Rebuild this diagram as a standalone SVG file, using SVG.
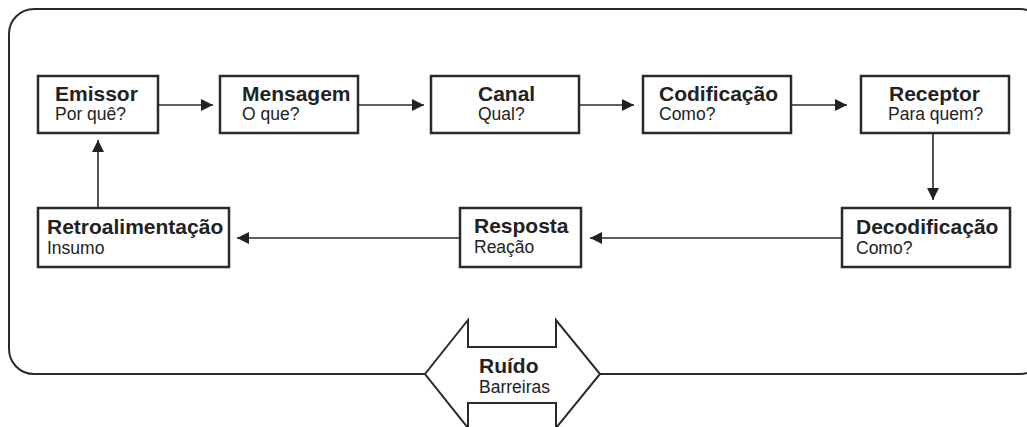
<svg xmlns="http://www.w3.org/2000/svg" width="1027" height="427" viewBox="0 0 1027 427">
<style>
.frame{fill:none;stroke:#2a2a2a;stroke-width:2}
.box{fill:#fff;stroke:#2a2a2a;stroke-width:2.5}
.con{fill:none;stroke:#2a2a2a;stroke-width:1.6}
.t{font-family:"Liberation Sans",Arial,sans-serif;font-weight:bold;font-size:21px;fill:#222}
.s{font-family:"Liberation Sans",Arial,sans-serif;font-size:17.5px;fill:#222}
.noise{fill:#fff;stroke:#2a2a2a;stroke-width:2}
</style>
<defs>
<marker id="ah" viewBox="0 0 12 12" refX="12" refY="6" markerWidth="12" markerHeight="12" markerUnits="userSpaceOnUse" orient="auto">
<path d="M0,0 L12,6 L0,12 z" fill="#222"/>
</marker>
</defs>
<rect x="0" y="0" width="1027" height="427" fill="#fff"/>
<rect class="frame" x="9" y="9" width="1036" height="365" rx="25" ry="25"/>
<g id="connectors">
<path class="con" d="M158,105 H213" marker-end="url(#ah)"/>
<path class="con" d="M358,105 H424" marker-end="url(#ah)"/>
<path class="con" d="M579,105 H634" marker-end="url(#ah)"/>
<path class="con" d="M791,105 H847" marker-end="url(#ah)"/>
<path class="con" d="M933,133 V200" marker-end="url(#ah)"/>
<path class="con" d="M842,238 H590" marker-end="url(#ah)"/>
<path class="con" d="M460,238 H237" marker-end="url(#ah)"/>
<path class="con" d="M98,208 V140" marker-end="url(#ah)"/>
</g>
<g id="emissor">
<rect class="box" x="38" y="76" width="120" height="57"/>
<text class="t" x="55" y="101">Emissor</text>
<text class="s" x="55" y="120">Por quê?</text>
</g>
<g id="mensagem">
<rect class="box" x="220" y="76" width="138" height="57"/>
<text class="t" x="242" y="101">Mensagem</text>
<text class="s" x="242" y="120">O que?</text>
</g>
<g id="canal">
<rect class="box" x="431" y="76" width="148" height="57"/>
<text class="t" x="478" y="101">Canal</text>
<text class="s" x="478" y="120">Qual?</text>
</g>
<g id="codificacao">
<rect class="box" x="643" y="76" width="148" height="57"/>
<text class="t" x="659" y="101">Codificação</text>
<text class="s" x="659" y="120">Como?</text>
</g>
<g id="receptor">
<rect class="box" x="861" y="76" width="148" height="57"/>
<text class="t" x="889" y="101">Receptor</text>
<text class="s" x="888" y="120">Para quem?</text>
</g>
<g id="decodificacao">
<rect class="box" x="842" y="208" width="168" height="59"/>
<text class="t" x="856" y="234">Decodificação</text>
<text class="s" x="856" y="254">Como?</text>
</g>
<g id="resposta">
<rect class="box" x="460" y="208" width="121" height="59"/>
<text class="t" x="474" y="233">Resposta</text>
<text class="s" x="474" y="253">Reação</text>
</g>
<g id="retroalimentacao">
<rect class="box" x="38" y="208" width="191" height="59"/>
<text class="t" x="47" y="234">Retroalimentação</text>
<text class="s" x="47" y="254">Insumo</text>
</g>
<g id="ruido">
<polygon class="noise" points="425,374 468,320 468,347 556,347 556,320 600,374 556,428 556,403 468,403 468,428"/>
<text class="t" x="479" y="373">Ruído</text>
<text class="s" x="479" y="393">Barreiras</text>
</g>
</svg>
